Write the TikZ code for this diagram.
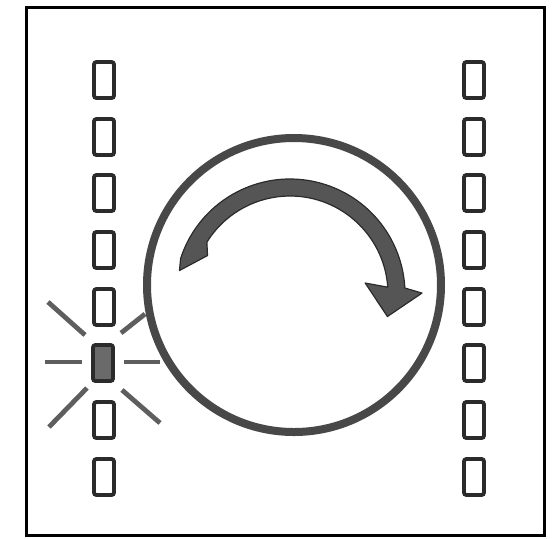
\documentclass[tikz,border=0pt]{standalone}
\usetikzlibrary{calc}

\definecolor{inkdark}{HTML}{2B2B2B}
\definecolor{ringgray}{HTML}{484848}
\definecolor{arrowgray}{HTML}{555555}
\definecolor{raygray}{HTML}{5E5E5E}
\definecolor{litgray}{HTML}{6A6A6A}

\begin{document}
\begin{tikzpicture}[
        x=0.5pt, y=-0.5pt,
        slot/.style={rectangle, draw=inkdark, line width=1.9pt, rounded corners=1.2pt, minimum width=10pt, minimum height=18pt, inner sep=0pt},
        litslot/.style={slot, fill=litgray},
        ray/.style={draw=raygray, line width=2.4pt},
        ring/.style={draw=ringgray, line width=4pt},
        frame/.style={draw=black, line width=1.5pt}
    ]
        \useasboundingbox (0,0) rectangle (552,538);
        \draw[frame] (26,7) rectangle (544,535);

        % left column
        \node[slot] (l1) at (104,80) {};
        \node[slot] (l2) at (104,137) {};
        \node[slot] (l3) at (104,193) {};
        \node[slot] (l4) at (104,250) {};
        \node[slot] (l5) at (104,307) {};
        \node[litslot] (l6) at (103,363) {};
        \node[slot] (l7) at (104,420) {};
        \node[slot] (l8) at (104,477) {};

        % right column
        \node[slot] (r1) at (474,80) {};
        \node[slot] (r2) at (474,137) {};
        \node[slot] (r3) at (474,193) {};
        \node[slot] (r4) at (474,250) {};
        \node[slot] (r5) at (474,307) {};
        \node[slot] (r6) at (474,363) {};
        \node[slot] (r7) at (474,420) {};
        \node[slot] (r8) at (474,477) {};

        % glow around the lit slot
        \draw[ray] (45,362) -- (82,362);
        \draw[ray] (124,362) -- (160,362);
        \draw[ray] (48,302) -- (85,335);
        \draw[ray] (121,333) -- (145,314);
        \draw[ray] (87,388) -- (49,427);
        \draw[ray] (122,390) -- (160,423);

        % wheel
        \draw[ring] (294,285) circle[radius=147];

        % turning arrow
        \coordinate (hub) at (290,294);
        \filldraw[fill=arrowgray, draw=inkdark, line width=0.6pt, line join=round]
            ($(hub)+(-168:113)$) -- ($(hub)+(-162:115)$)
            arc[start angle=-162, end angle=-3, radius=115]
            -- ($(hub)+(-0.4:132)$) -- ($(hub)+(13:100)$) -- ($(hub)+(-8.3:76)$)
            -- ($(hub)+(-4:98)$)
            arc[start angle=-4, end angle=-148, radius=98]
            -- ($(hub)+(-155:91)$)
            -- cycle;
    \end{tikzpicture}
\end{document}
